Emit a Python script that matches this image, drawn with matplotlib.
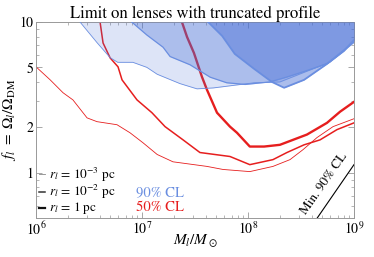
import numpy as np
import matplotlib
matplotlib.use('Agg')
import matplotlib.pyplot as plt
from matplotlib.ticker import LogLocator, NullFormatter, FixedLocator, FixedFormatter

plt.rcParams['font.family'] = ['STIXGeneral', 'DejaVu Serif']
plt.rcParams['mathtext.fontset'] = 'stix'

# 90% CL excluded regions (boundary, filled up to top)
light_M = [2.6e6, 3.76e6, 5.0e6, 5.9e6, 8.2e6, 1.11e7, 1.39e7, 2.28e7, 3.3e7, 4.7e7, 1.14e8, 2.0e8, 3.3e8, 5.9e8, 1e9]
light_f = [10, 7.3, 5.8, 5.4, 5.4, 5.0, 4.5, 3.9, 3.6, 3.65, 3.95, 4.0, 4.6, 5.4, 7.3]
mid_M = [8.0e6, 1.11e7, 1.58e7, 1.84e7, 2.84e7, 4.4e7, 6.3e7, 9.4e7, 1.6e8, 2.3e8, 3.4e8, 5.6e8, 1e9]
mid_f = [10, 8.2, 6.8, 5.9, 5.2, 4.3, 3.95, 3.85, 4.0, 4.3, 4.7, 5.3, 7.4]
dark_M = [4.2e7, 5.7e7, 7.5e7, 1.14e8, 1.68e8, 2.19e8, 3.38e8, 5.56e8, 8.05e8, 1e9]
dark_f = [10, 8.08, 6.14, 4.89, 4.0, 3.66, 4.13, 5.27, 6.43, 7.6]

# 50% CL curves
r3_M = [1e6, 1.36e6, 1.8e6, 2.23e6, 3.03e6, 3.76e6, 5.81e6, 7.7e6, 1.02e7, 1.39e7, 1.96e7, 4.1e7, 5.8e7, 1.04e8, 1.72e8, 2.49e8, 3.3e8, 4.48e8, 6.34e8, 1e9]
r3_f = [5.04, 4.13, 3.39, 3.04, 2.31, 2.18, 2.08, 1.84, 1.58, 1.32, 1.18, 1.10, 1.05, 1.016, 1.10, 1.22, 1.42, 1.71, 2.02, 2.28]
r2_M = [4.02e6, 4.29e6, 5.0e6, 5.94e6, 6.48e6, 8.97e6, 1.24e7, 1.65e7, 2.44e7, 3.52e7, 6.76e7, 1.04e8, 1.72e8, 2.33e8, 3.38e8, 4.78e8, 6.91e8, 1e9]
r2_f = [10, 7.26, 5.78, 5.04, 4.13, 3.04, 2.50, 2.02, 1.65, 1.36, 1.28, 1.13, 1.22, 1.36, 1.53, 1.65, 1.93, 2.14]
r0_M = [2.38e7, 2.66e7, 3.09e7, 3.68e7, 4.1e7, 5.1e7, 6.76e7, 7.87e7, 1.04e8, 1.42e8, 2.0e8, 3.6e8, 5.56e8, 7.4e8, 1e9]
r0_f = [10, 7.96, 6.23, 4.32, 3.55, 2.50, 2.02, 1.84, 1.49, 1.49, 1.53, 1.79, 2.14, 2.54, 2.95]

min_cl_M = [4.5e8, 1e9]
min_cl_f = [0.5, 1.13]

legend_labels = [r'$r_l$ = 10$^{-3}$ pc', r'$r_l$ = 10$^{-2}$ pc', r'$r_l$ = 1 pc']

red = '#e61e1e'
blue_edge = '#6a8ee0'
blue_fill = (70/255, 110/255, 215/255)

fig = plt.figure(figsize=(3.74, 2.57), dpi=100)
ax = fig.add_axes([0.0963, 0.1518, 0.8502, 0.7626])

# red 50% lines (below blue fills)
ax.plot(r3_M, r3_f, color=red, lw=0.6, zorder=2)
ax.plot(r2_M, r2_f, color=red, lw=1.1, zorder=2)
ax.plot(r0_M, r0_f, color=red, lw=1.7, zorder=2)

# blue 90% regions
ax.fill_between(light_M, light_f, 10, color=blue_fill, alpha=0.18, lw=0, zorder=3)
ax.fill_between(mid_M, mid_f, 10, color=blue_fill, alpha=0.32, lw=0, zorder=3)
ax.fill_between(dark_M, dark_f, 10, color=blue_fill, alpha=0.45, lw=0, zorder=3)
ax.plot(light_M, light_f, color=blue_edge, lw=0.6, zorder=4)
ax.plot(mid_M, mid_f, color=blue_edge, lw=0.9, zorder=4)
ax.plot(dark_M, dark_f, color=blue_edge, lw=1.3, zorder=4)

ax.plot(min_cl_M, min_cl_f, color='black', lw=0.8, zorder=5)
ax.text(0.905, 0.175, 'Min. 90% CL', transform=ax.transAxes, rotation=55,
        fontsize=9.5, ha='center', va='center', rotation_mode='anchor')

ax.set_xscale('log')
ax.set_yscale('log')
ax.set_xlim(1e6, 1e9)
ax.set_ylim(0.5, 10)

ax.yaxis.set_major_locator(FixedLocator([1, 2, 5, 10]))
ax.yaxis.set_major_formatter(FixedFormatter(['1', '2', '5', '10']))
ax.yaxis.set_minor_locator(FixedLocator([0.5, 0.6, 0.7, 0.8, 0.9, 3, 4, 6, 7, 8, 9]))
ax.yaxis.set_minor_formatter(NullFormatter())
ax.xaxis.set_minor_locator(LogLocator(base=10, subs=np.arange(2, 10)))
ax.xaxis.set_minor_formatter(NullFormatter())

for s in ax.spines.values():
    s.set_color('#999999')
    s.set_linewidth(0.7)
ax.tick_params(which='both', direction='in', top=True, right=True, color='#999999',
               labelsize=10, pad=2)
ax.tick_params(which='major', length=4, width=0.6)
ax.tick_params(which='minor', length=2, width=0.5)

ax.set_title('Limit on lenses with truncated profile', fontsize=12, pad=3)
ax.set_xlabel(r'$M_l/M_\odot$', fontsize=11)
ax.xaxis.set_label_coords(0.5, -0.075)
ax.set_ylabel(r'$f_l\ =\ \Omega_l/\Omega_{\rm DM}$', fontsize=11)
ax.yaxis.set_label_coords(-0.057, 0.5)

# legend
for yy, lab, lw, col in zip([0.222, 0.132, 0.052], legend_labels, [0.6, 1.1, 1.6],
                            ['#888888', '#333333', '#111111']):
    ax.plot([0.009, 0.027], [yy, yy], transform=ax.transAxes, color=col, lw=lw, zorder=6)
    ax.text(0.04, yy, lab, transform=ax.transAxes, fontsize=9.5, va='center', ha='left')
ax.text(0.314, 0.132, '90% CL', transform=ax.transAxes, color=blue_edge, fontsize=10.5, va='center')
ax.text(0.314, 0.052, '50% CL', transform=ax.transAxes, color=red, fontsize=10.5, va='center')

fig.savefig('out.png', dpi=100)
